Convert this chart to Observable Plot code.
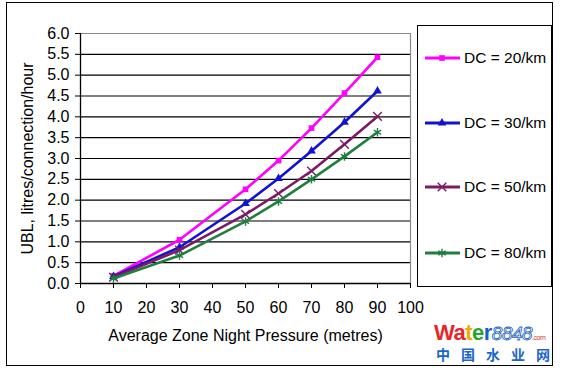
<!DOCTYPE html>
<html>
<head>
<meta charset="utf-8">
<script src="https://cdn.jsdelivr.net/npm/d3@7"></script>
<script src="https://cdn.jsdelivr.net/npm/@observablehq/plot@0.6"></script>
<style>
  html, body { margin: 0; padding: 0; background: #fff; }
  #wrap { position: relative; width: 564px; height: 373px; font-family: "Liberation Sans", Arial, sans-serif; overflow: hidden; }
  #outer { position: absolute; left: 6px; top: 2px; width: 547px; height: 364px; border: 1.5px solid #000; box-sizing: border-box; pointer-events: none; }
  #legend { position: absolute; left: 417px; top: 25px; width: 135px; height: 262px; border: 1.5px solid #000; box-sizing: border-box; background: #fff; }
  #chart { position: absolute; left: 0; top: 0; }
  .wm1 { position: absolute; left: 434px; top: 322px; font-weight: bold; font-size: 22px; letter-spacing: -0.5px; line-height: 1; }
  .wm1 i { font-weight: normal; color: #fff; -webkit-text-stroke: 0.8px #1a5fc0; font-size: 19px; }
  .wm1 small { font-size: 7px; color: #d33; font-weight: normal; }
  .wm2 { position: absolute; left: 436px; top: 347px; font-weight: bold; font-size: 14px; color: #1a66c8; letter-spacing: 11px; line-height: 1; font-family: "Noto Sans CJK SC", sans-serif; }
</style>
</head>
<body>
<div id="wrap">
  <div id="chart"></div>
  <div id="legend"><svg id="legsvg" width="132" height="259"></svg></div>
  <div id="outer"></div>
  <div class="wm1"><span style="color:#e8262a">Wa</span><span style="color:#f2a900">t</span><span style="color:#2aa52a">e</span><span style="color:#1a5fc0">r</span><i>8848</i><small>.com</small></div>
  <div class="wm2">中国水业网</div>
</div>
<script>
const pressures = [10, 30, 50, 60, 70, 80, 90];
const dc20 = [0.18, 1.05, 2.26, 2.95, 3.73, 4.57, 5.43];
const dc30 = [0.17, 0.87, 1.92, 2.52, 3.18, 3.87, 4.62];
const dc50 = [0.15, 0.80, 1.66, 2.16, 2.70, 3.34, 4.01];
const dc80 = [0.12, 0.67, 1.49, 1.97, 2.50, 3.05, 3.63];
const seriesNames = ["DC = 20/km", "DC = 30/km", "DC = 50/km", "DC = 80/km"];
const seriesColors = ["#ff00ff", "#1212d2", "#7d1a66", "#1f7f3f"];
const seriesSymbols = ["square", "triangle", "times", "asterisk"];
const xTicks = [0, 10, 20, 30, 40, 50, 60, 70, 80, 90, 100];
const yTicks = [0, 0.5, 1, 1.5, 2, 2.5, 3, 3.5, 4, 4.5, 5, 5.5, 6];
const xTitle = "Average Zone Night Pressure (metres)";
const yTitle = "UBL, litres/connection/hour";

const allSeries = [dc20, dc30, dc50, dc80];
const rows = [];
allSeries.forEach((vals, si) => vals.forEach((v, i) => rows.push({x: pressures[i], y: v, s: si})));

const filledSym = s => s === "square" || s === "triangle";
const marks = [
  Plot.ruleY(yTicks.filter(v => v > 0 && v < 6), {stroke: "#000", strokeWidth: 1.2}),
  Plot.ruleY([6], {stroke: "#8a8a8a", strokeWidth: 1.2}),
  Plot.ruleX([100], {stroke: "#8a8a8a", strokeWidth: 1.2}),
  Plot.axisY({ticks: yTicks, tickFormat: d3.format(".1f"), tickSize: 5, tickPadding: 6, label: null, fontSize: 16}),
  Plot.axisX({ticks: xTicks, tickSize: 5, tickPadding: 13, label: null, fontSize: 16}),
  Plot.ruleX([0], {stroke: "#000", strokeWidth: 1.3}),
  Plot.ruleY([0], {stroke: "#000", strokeWidth: 1.3}),
];
allSeries.forEach((vals, si) => {
  const d = rows.filter(r => r.s === si);
  marks.push(Plot.line(d, {x: "x", y: "y", stroke: seriesColors[si], strokeWidth: 2.6}));
  const sym = seriesSymbols[si];
  marks.push(Plot.dot(d, filledSym(sym)
    ? {x: "x", y: "y", symbol: () => sym, fill: seriesColors[si], r: 3.2}
    : {x: "x", y: "y", symbol: () => sym, stroke: seriesColors[si], strokeWidth: 1.4, r: 4}));
});
marks.push(Plot.text([xTitle], {frameAnchor: "bottom", dy: 57, fontSize: 16, fill: "#000"}));
marks.push(Plot.text([yTitle], {frameAnchor: "left", rotate: -90, dx: -53, textAnchor: "middle", fontSize: 16, fill: "#000"}));

const chart = Plot.plot({
  width: 564,
  height: 373,
  marginLeft: 80,
  marginRight: 154,
  marginTop: 33,
  marginBottom: 90,
  x: {domain: [0, 100]},
  y: {domain: [0, 6]},
  symbol: {type: "identity"},
  style: {fontFamily: "'Liberation Sans', Arial, sans-serif", fontSize: "16px", color: "#000", background: "transparent"},
  marks
});
document.getElementById("chart").appendChild(chart);

// legend
const svg = d3.select("#legsvg");
const symMap = {square: d3.symbolSquare, triangle: d3.symbolTriangle, times: d3.symbolTimes, asterisk: d3.symbolAsterisk};
const legY = [32, 97, 161, 227];
seriesNames.forEach((name, i) => {
  const g = svg.append("g").attr("transform", `translate(0,${legY[i]})`);
  g.append("line").attr("x1", 7).attr("x2", 42).attr("stroke", seriesColors[i]).attr("stroke-width", 2.8);
  const sym = seriesSymbols[i];
  const path = d3.symbol(symMap[sym], filledSym(sym) ? 32 : 50)();
  const p = g.append("path").attr("d", path).attr("transform", "translate(24,0)");
  if (filledSym(sym)) p.attr("fill", seriesColors[i]);
  else p.attr("fill", "none").attr("stroke", seriesColors[i]).attr("stroke-width", 1.4);
  g.append("text").attr("x", 46).attr("y", 0).attr("dy", "0.35em")
    .attr("font-family", "'Liberation Sans', Arial, sans-serif").attr("font-size", 15.5).attr("fill", "#000").text(name);
});
</script>
</body>
</html>
